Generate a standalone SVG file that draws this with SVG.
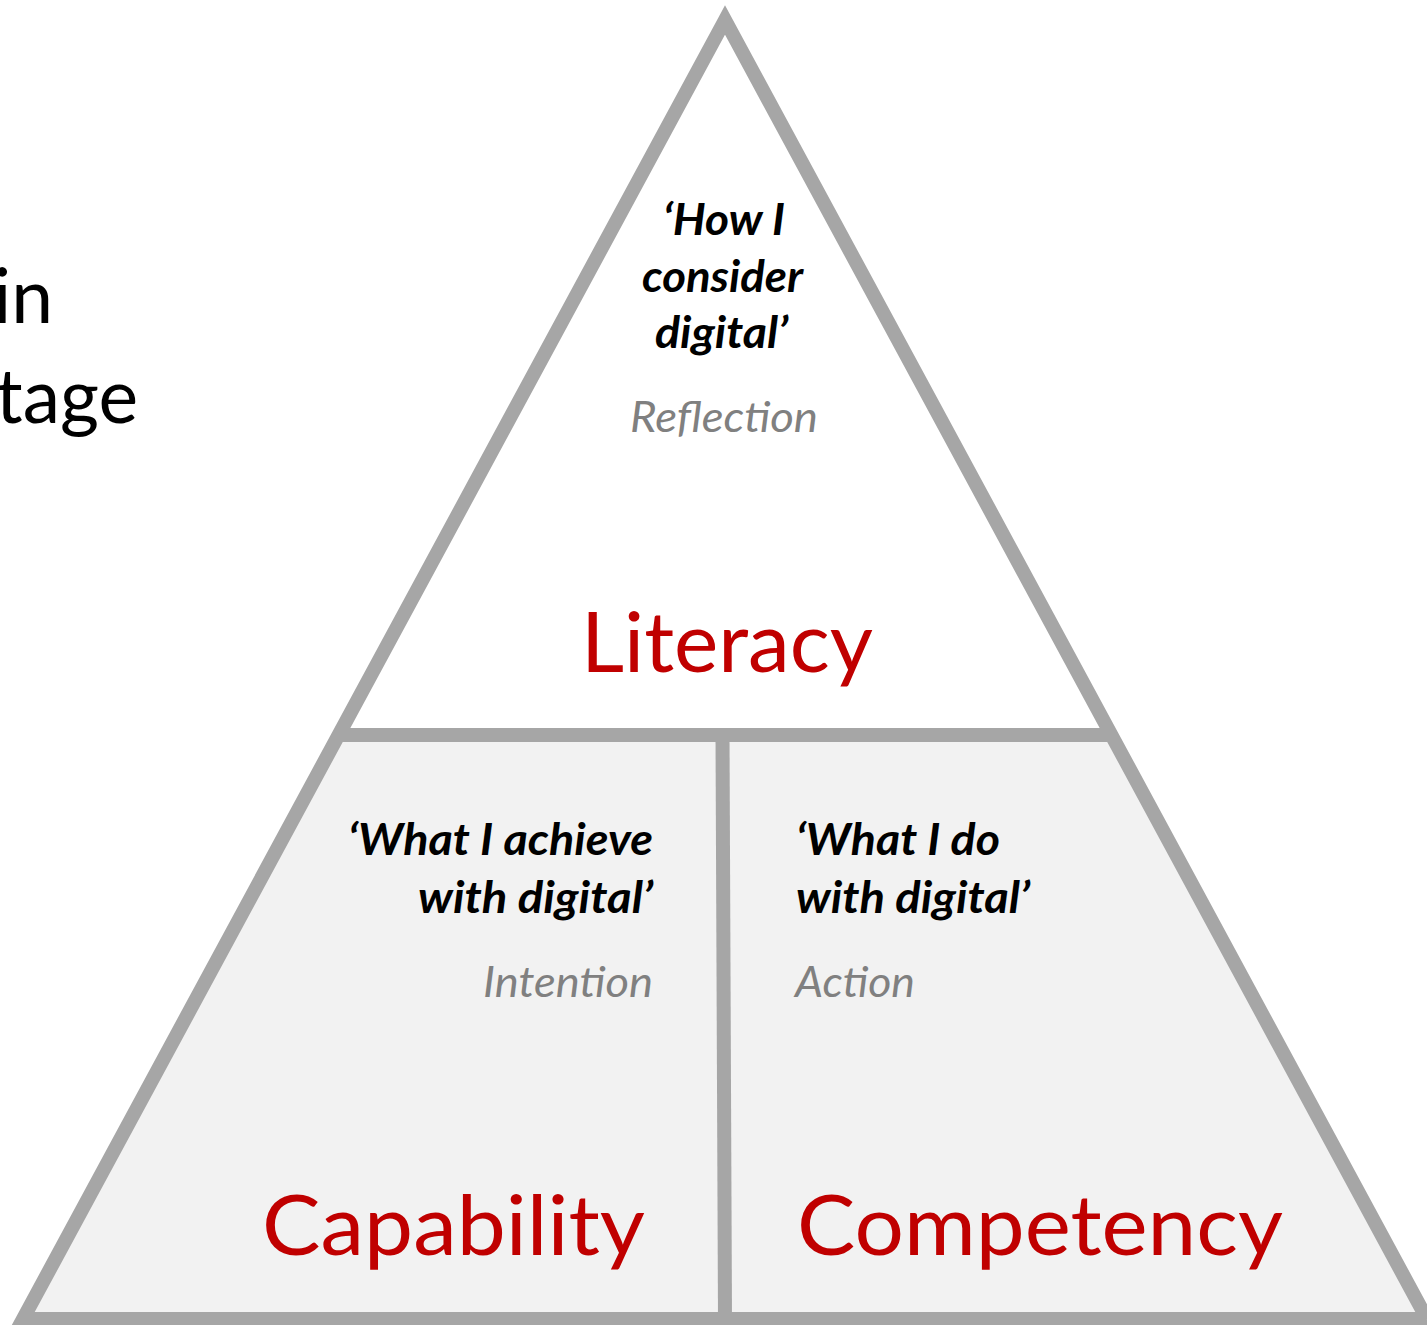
<svg xmlns="http://www.w3.org/2000/svg" width="1427" height="1325" viewBox="0 0 1427 1325">
<style>
  .edge { fill: none; stroke: #A6A6A6; stroke-width: 14; stroke-linejoin: miter; stroke-miterlimit: 10; }
  .t { font-family: Lato, "Open Sans", "Liberation Sans", sans-serif; }
  .quote { font-size: 43px; font-weight: bold; font-style: italic; fill: #000000; }
  .sub { font-size: 43px; font-style: italic; fill: #808080; }
  .title { font-size: 84px; fill: #C00000; }
  .side { font-size: 75px; fill: #000000; }
</style>
<rect x="0" y="0" width="1427" height="1325" fill="#FFFFFF"/>
<g id="side-text" class="t side">
  <text x="53" y="323" text-anchor="end">in</text>
  <text x="138" y="423" text-anchor="end">tage</text>
</g>
<g id="literacy">
  <polygon points="725,20 338,735 1112,735" fill="#FFFFFF"/>
  <text class="t quote" x="663" y="235" textLength="122" lengthAdjust="spacingAndGlyphs">‘How I</text>
  <text class="t quote" x="642" y="292" textLength="161" lengthAdjust="spacingAndGlyphs">consider</text>
  <text class="t quote" x="655" y="348" textLength="133" lengthAdjust="spacingAndGlyphs">digital’</text>
  <text class="t sub" x="630" y="432" textLength="188" lengthAdjust="spacingAndGlyphs">Reflection</text>
  <text class="t title" x="581" y="672" textLength="292" lengthAdjust="spacingAndGlyphs">Literacy</text>
</g>
<g id="capability">
  <polygon points="338,735 722.5,735 725,1319 23,1319" fill="#F2F2F2"/>
  <text class="t quote" x="348" y="855" textLength="305" lengthAdjust="spacingAndGlyphs">‘What I achieve</text>
  <text class="t quote" x="418" y="913" textLength="235" lengthAdjust="spacingAndGlyphs">with digital’</text>
  <text class="t sub" x="483" y="997" textLength="170" lengthAdjust="spacingAndGlyphs">Intention</text>
  <text class="t title" x="262" y="1255" textLength="383" lengthAdjust="spacingAndGlyphs">Capability</text>
</g>
<g id="competency">
  <polygon points="722.5,735 1112,735 1427,1319 725,1319" fill="#F2F2F2"/>
  <text class="t quote" x="796" y="855" textLength="204" lengthAdjust="spacingAndGlyphs">‘What I do</text>
  <text class="t quote" x="796" y="913" textLength="234" lengthAdjust="spacingAndGlyphs">with digital’</text>
  <text class="t sub" x="795" y="997" textLength="120" lengthAdjust="spacingAndGlyphs">Action</text>
  <text class="t title" x="797" y="1255" textLength="486" lengthAdjust="spacingAndGlyphs">Competency</text>
</g>
<g id="connectors">
  <polygon class="edge" points="725,20 23,1319 1427,1319"/>
  <line class="edge" x1="338" y1="735" x2="1112" y2="735"/>
  <line class="edge" x1="722.5" y1="735" x2="725" y2="1319"/>
</g>
</svg>
